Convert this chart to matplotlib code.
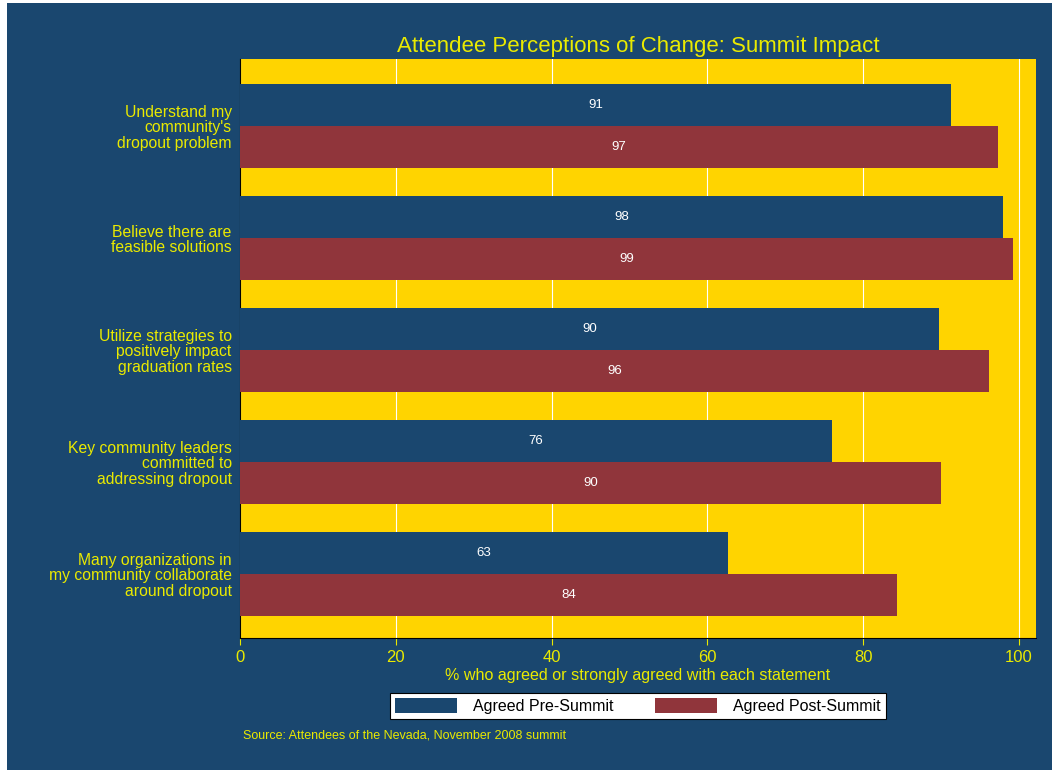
import numpy as np
import matplotlib
matplotlib.use('Agg')
from matplotlib import pyplot as plt
from matplotlib.patches import Rectangle

# datos
statements = ["Understand my\ncommunity's\ndropout problem",
              "Believe there are\nfeasible solutions",
              "Utilize strategies to\npositively impact\ngraduation rates",
              "Key community leaders\ncommitted to\naddressing dropout",
              "Many organizations in\nmy community collaborate\naround dropout"]
pre_summit = [91.3, 98.0, 89.7, 76.0, 62.6]
post_summit = [97.3, 99.2, 96.2, 90.0, 84.3]
series_names = ['Agreed Pre-Summit', 'Agreed Post-Summit']
xticks = [0, 20, 40, 60, 80, 100]

navy = '#1a476f'
maroon = '#90353b'
gold = '#ffd400'
txt = '#eaea00'

plt.rcParams['font.family'] = ['Liberation Sans', 'DejaVu Sans']

fig = plt.figure(figsize=(10.52, 7.70), dpi=100, facecolor='white')
fig.patches.append(Rectangle((7/1052, 0), 1 - 7/1052, 1 - 3/770,
                             transform=fig.transFigure, facecolor=navy,
                             edgecolor='none', zorder=-10))

ax = fig.add_axes([240/1052, 1 - 638/770, (1036-240)/1052, (638-59)/770])
ax.set_facecolor(gold)

pos = np.arange(len(statements))
h = 0.375
b1 = ax.barh(pos - h/2, pre_summit, height=h, color=navy, zorder=3)
b2 = ax.barh(pos + h/2, post_summit, height=h, color=maroon, zorder=3)

# etiquetas dentro de las barras
for bars, vals in [(b1, pre_summit), (b2, post_summit)]:
    for r, v in zip(bars, vals):
        ax.text(v/2, r.get_y() + r.get_height()/2, '%d' % round(v),
                color='white', ha='center', va='center', fontsize=9.5, zorder=4)

ax.set_ylim(4 + 64/112, -67/112)
ax.set_xlim(0, (1036-240)/7.79)
ax.set_xticks(xticks)
ax.set_xticklabels([str(t) for t in xticks], color=txt, fontsize=12)
ax.tick_params(axis='x', colors=txt, length=5, labelcolor=txt, pad=4)
ax.set_yticks(pos)
ax.set_yticklabels(statements, color=txt, fontsize=11.3, linespacing=1.08)
ax.tick_params(axis='y', length=0, pad=6)
ax.xaxis.grid(True, color='white', linewidth=0.8, zorder=1)
ax.set_axisbelow(True)

for s in ['top', 'right']:
    ax.spines[s].set_visible(False)
ax.spines['left'].set_color('black')
ax.spines['bottom'].set_color('black')

ax.set_xlabel('% who agreed or strongly agreed with each statement',
              color=txt, fontsize=11.6, labelpad=2)
ax.set_title('Attendee Perceptions of Change: Summit Impact', color=txt,
             fontsize=16, pad=5)

leg = fig.legend([b1, b2], series_names, ncol=2, loc='center',
                 bbox_to_anchor=(638/1052, 1 - 706/770), frameon=True,
                 fancybox=False, edgecolor='black', facecolor='white',
                 fontsize=11.5, handlelength=3.9, handleheight=1.1,
                 columnspacing=2.6, handletextpad=1.0, borderpad=0.3,
                 borderaxespad=0)
leg.get_frame().set_linewidth(0.8)
leg.get_frame().set_alpha(1)

fig.text(243/1052, 1 - 736/770, 'Source: Attendees of the Nevada, November 2008 summit',
         color=txt, fontsize=9, va='center')

plt.savefig('out.png', dpi=100, facecolor=fig.get_facecolor())
